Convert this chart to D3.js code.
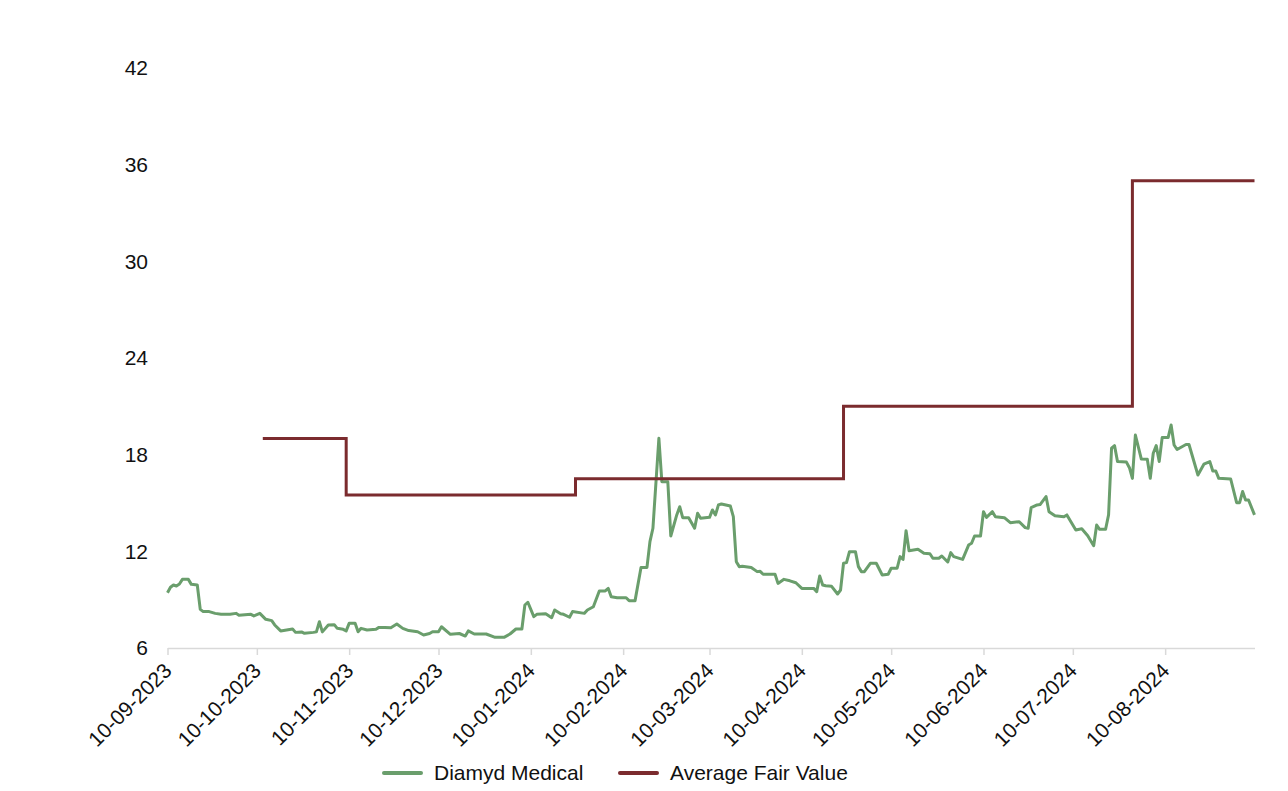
<!DOCTYPE html>
<html>
<head>
<meta charset="utf-8">
<script src="https://cdn.jsdelivr.net/npm/d3@7"></script>
<style>
  body { margin: 0; background: #fff; }
  text { font-family: Arial, "Liberation Sans", sans-serif; fill: #111; }
</style>
</head>
<body>
<svg id="chart" width="1288" height="791"></svg>
<script>
// Share price
const priceDates = [
  "2023-09-10","2023-09-11","2023-09-12","2023-09-13","2023-09-14","2023-09-15","2023-09-17","2023-09-18","2023-09-20","2023-09-21",
  "2023-09-22","2023-09-24","2023-09-26","2023-09-28","2023-10-01","2023-10-03","2023-10-04","2023-10-08","2023-10-09","2023-10-11",
  "2023-10-13","2023-10-15","2023-10-16","2023-10-18","2023-10-20","2023-10-22","2023-10-23","2023-10-25","2023-10-26","2023-10-29",
  "2023-10-30","2023-10-31","2023-11-01","2023-11-03","2023-11-05","2023-11-06","2023-11-08","2023-11-09","2023-11-10","2023-11-12",
  "2023-11-13","2023-11-14","2023-11-16","2023-11-19","2023-11-20","2023-11-22","2023-11-24","2023-11-26","2023-11-28","2023-11-30",
  "2023-12-03","2023-12-05","2023-12-07","2023-12-08","2023-12-10","2023-12-11","2023-12-14","2023-12-17","2023-12-19","2023-12-20",
  "2023-12-22","2023-12-26","2023-12-29","2024-01-01","2024-01-03","2024-01-05","2024-01-07","2024-01-08","2024-01-09","2024-01-11",
  "2024-01-12","2024-01-15","2024-01-17","2024-01-18","2024-01-20","2024-01-21","2024-01-23","2024-01-24","2024-01-28","2024-01-29",
  "2024-01-31","2024-02-02","2024-02-04","2024-02-05","2024-02-06","2024-02-08","2024-02-11","2024-02-12","2024-02-14","2024-02-16",
  "2024-02-18","2024-02-19","2024-02-20","2024-02-22","2024-02-23","2024-02-25","2024-02-26","2024-02-28","2024-02-29","2024-03-01",
  "2024-03-03","2024-03-05","2024-03-06","2024-03-07","2024-03-10","2024-03-11","2024-03-12","2024-03-13","2024-03-14","2024-03-17",
  "2024-03-18","2024-03-19","2024-03-20","2024-03-21","2024-03-24","2024-03-26","2024-03-27","2024-03-28","2024-04-01","2024-04-02",
  "2024-04-04","2024-04-06","2024-04-08","2024-04-10","2024-04-14","2024-04-15","2024-04-16","2024-04-17","2024-04-18","2024-04-20",
  "2024-04-22","2024-04-23","2024-04-24","2024-04-25","2024-04-26","2024-04-28","2024-04-29","2024-04-30","2024-05-01","2024-05-03",
  "2024-05-05","2024-05-07","2024-05-09","2024-05-10","2024-05-12","2024-05-13","2024-05-14","2024-05-15","2024-05-16","2024-05-19",
  "2024-05-21","2024-05-23","2024-05-24","2024-05-26","2024-05-27","2024-05-29","2024-05-30","2024-05-31","2024-06-03","2024-06-05",
  "2024-06-06","2024-06-07","2024-06-09","2024-06-10","2024-06-11","2024-06-13","2024-06-14","2024-06-17","2024-06-19","2024-06-22",
  "2024-06-24","2024-06-25","2024-06-26","2024-06-28","2024-06-29","2024-07-01","2024-07-02","2024-07-04","2024-07-07","2024-07-08",
  "2024-07-11","2024-07-13","2024-07-15","2024-07-17","2024-07-18","2024-07-19","2024-07-21","2024-07-22","2024-07-23","2024-07-24",
  "2024-07-25","2024-07-28","2024-07-29","2024-07-30","2024-07-31","2024-08-02","2024-08-04","2024-08-05","2024-08-06","2024-08-07",
  "2024-08-08","2024-08-09","2024-08-11","2024-08-12","2024-08-13","2024-08-14","2024-08-17","2024-08-18","2024-08-21","2024-08-23",
  "2024-08-25","2024-08-26","2024-08-27","2024-08-28","2024-09-01","2024-09-03","2024-09-04","2024-09-05","2024-09-06","2024-09-07",
  "2024-09-09"
];
const priceValues = [
  9.43, 9.77, 9.91, 9.85, 9.97, 10.26, 10.26, 9.95, 9.91, 8.40,
  8.26, 8.26, 8.15, 8.09, 8.09, 8.15, 8.03, 8.09, 7.99, 8.15,
  7.78, 7.70, 7.43, 7.06, 7.12, 7.18, 6.97, 7.00, 6.91, 6.97,
  7.00, 7.63, 7.00, 7.43, 7.45, 7.22, 7.16, 7.06, 7.53, 7.53,
  7.01, 7.22, 7.12, 7.16, 7.28, 7.28, 7.26, 7.49, 7.22, 7.08,
  7.01, 6.81, 6.90, 7.01, 7.01, 7.32, 6.85, 6.90, 6.74, 7.06,
  6.87, 6.87, 6.66, 6.66, 6.87, 7.18, 7.18, 8.67, 8.84, 7.95,
  8.09, 8.13, 7.88, 8.36, 8.13, 8.09, 7.91, 8.26, 8.15, 8.36,
  8.56, 9.54, 9.54, 9.70, 9.18, 9.12, 9.12, 8.94, 8.94, 11.00,
  11.00, 12.60, 13.43, 19.02, 16.32, 16.32, 12.95, 14.26, 14.77, 14.09,
  14.09, 13.43, 14.36, 14.05, 14.11, 14.57, 14.26, 14.88, 14.94, 14.81,
  14.15, 11.36, 11.05, 11.07, 11.00, 10.74, 10.76, 10.58, 10.58, 10.01,
  10.26, 10.17, 10.05, 9.70, 9.70, 9.50, 10.47, 9.91, 9.86, 9.83,
  9.35, 9.60, 11.26, 11.30, 11.98, 11.98, 11.05, 10.74, 10.74, 11.26,
  11.26, 10.53, 10.58, 10.95, 10.95, 11.67, 11.50, 13.28, 12.04, 12.13,
  11.88, 11.85, 11.57, 11.57, 11.71, 11.34, 11.92, 11.67, 11.50, 12.39,
  12.50, 12.95, 12.95, 14.46, 14.11, 14.46, 14.15, 14.09, 13.78, 13.84,
  13.47, 13.43, 14.71, 14.88, 14.90, 15.40, 14.46, 14.21, 14.15, 14.26,
  13.33, 13.40, 12.97, 12.35, 13.63, 13.37, 13.37, 14.26, 18.40, 18.56,
  17.57, 17.54, 17.19, 16.53, 19.22, 17.73, 17.71, 16.53, 18.09, 18.56,
  17.57, 19.06, 19.06, 19.84, 18.60, 18.32, 18.63, 18.63, 16.74, 17.41,
  17.57, 16.99, 16.99, 16.53, 16.49, 15.02, 15.02, 15.71, 15.19, 15.19,
  14.26
];

// Average fair value (step changes)
const fairDates = ["2023-10-12", "2023-11-09", "2024-01-25", "2024-04-24", "2024-07-30", "2024-09-09"];
const fairValues = [19, 15.5, 16.5, 21, 35, 35];

const yTicks = [6, 12, 18, 24, 30, 36, 42];
const xTickDates = ["2023-09-10","2023-10-10","2023-11-10","2023-12-10","2024-01-10","2024-02-10",
                    "2024-03-10","2024-04-10","2024-05-10","2024-06-10","2024-07-10","2024-08-10"];
const xDomain = ["2023-09-10", "2024-09-09"];
const seriesNames = ["Diamyd Medical", "Average Fair Value"];
const seriesColors = ["#6a9e6c", "#7b2b2e"];

const parse = d3.timeParse("%Y-%m-%d");
const svg = d3.select("#chart");

const x = d3.scaleTime()
  .domain(xDomain.map(parse))
  .range([167.5, 1254.5]);

const y = d3.scaleLinear()
  .domain([6, 42])
  .range([648, 68]);

// X axis
const xAxis = svg.append("g")
  .attr("transform", "translate(0,648)")
  .call(d3.axisBottom(x)
    .tickValues(xTickDates.map(parse))
    .tickFormat(d3.timeFormat("%d-%m-%Y"))
    .tickSize(7)
    .tickSizeOuter(0));
xAxis.select(".domain").attr("stroke", "#d9d9d9").attr("stroke-width", 1.5);
xAxis.selectAll(".tick line").attr("stroke", "#d9d9d9").attr("stroke-width", 1.5);
xAxis.selectAll(".tick text")
  .attr("font-size", 21)
  .attr("text-anchor", "end")
  .attr("dy", null)
  .attr("y", 0)
  .attr("transform", "translate(5,24) rotate(-45)");

// Y axis (labels only)
const yAxis = svg.append("g")
  .attr("transform", "translate(148,0)")
  .call(d3.axisLeft(y).tickValues(yTicks).tickSize(0).tickPadding(0));
yAxis.select(".domain").remove();
yAxis.selectAll(".tick text").attr("font-size", 21);

// Lines
const priceData = priceDates.map((d, i) => ({ date: parse(d), value: priceValues[i] }));
const fairData = fairDates.map((d, i) => ({ date: parse(d), value: fairValues[i] }));

const line = d3.line()
  .x(d => x(d.date))
  .y(d => y(d.value));

svg.append("path")
  .datum(priceData)
  .attr("fill", "none")
  .attr("stroke", seriesColors[0])
  .attr("stroke-width", 3)
  .attr("stroke-linejoin", "round")
  .attr("d", line);

svg.append("path")
  .datum(fairData)
  .attr("fill", "none")
  .attr("stroke", seriesColors[1])
  .attr("stroke-width", 3)
  .attr("d", line.curve(d3.curveStepAfter));

// Legend
const legendItems = [
  { name: seriesNames[0], color: seriesColors[0], x: 382 },
  { name: seriesNames[1], color: seriesColors[1], x: 618 }
];
const legend = svg.append("g").attr("transform", "translate(0,773)");
legendItems.forEach(item => {
  legend.append("line")
    .attr("x1", item.x + 2).attr("x2", item.x + 39)
    .attr("y1", 0).attr("y2", 0)
    .attr("stroke", item.color)
    .attr("stroke-width", 4)
    .attr("stroke-linecap", "round");
  legend.append("text")
    .attr("x", item.x + 52)
    .attr("y", 0)
    .attr("dy", "0.35em")
    .attr("font-size", 21)
    .text(item.name);
});
</script>
</body>
</html>
